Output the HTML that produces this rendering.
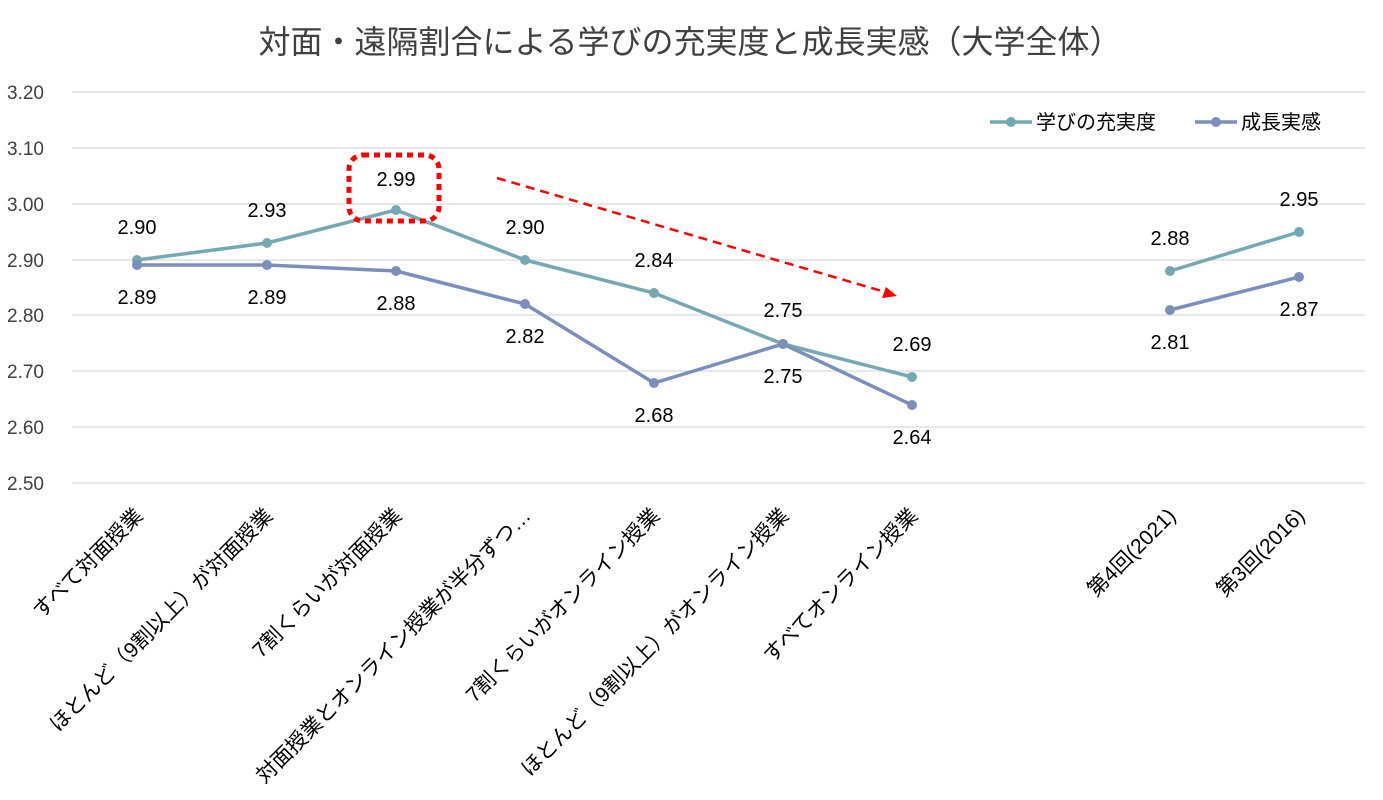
<!DOCTYPE html>
<html><head><meta charset="utf-8"><style>
html,body{margin:0;padding:0;background:#fff;}
svg{display:block;font-family:"Liberation Sans","Noto Sans CJK JP",sans-serif;}
</style></head><body>
<svg width="1383" height="800" viewBox="0 0 1383 800" xmlns="http://www.w3.org/2000/svg">
<rect width="1383" height="800" fill="#fff"/>
<text x="690" y="53" font-size="32" text-anchor="middle" fill="#404040">対面・遠隔割合による学びの充実度と成長実感（大学全体）</text>
<g stroke="#d9d9d9" stroke-width="1.3">
<line x1="72" y1="92" x2="1365" y2="92"/><line x1="72" y1="148" x2="1365" y2="148"/>
<line x1="72" y1="204" x2="1365" y2="204"/><line x1="72" y1="260" x2="1365" y2="260"/>
<line x1="72" y1="315" x2="1365" y2="315"/><line x1="72" y1="371" x2="1365" y2="371"/>
<line x1="72" y1="427" x2="1365" y2="427"/><line x1="72" y1="483" x2="1365" y2="483"/>
</g>
<g font-size="19" fill="#404040">
<text x="7" y="99">3.20</text><text x="7" y="155">3.10</text><text x="7" y="211">3.00</text>
<text x="7" y="267">2.90</text><text x="7" y="322">2.80</text><text x="7" y="378">2.70</text>
<text x="7" y="434">2.60</text><text x="7" y="490">2.50</text>
</g>
<g fill="none" stroke-width="3.5" stroke-linejoin="round">
<polyline stroke="#74a9b4" points="137,260 267,243 396,210 525,260 654,293 783,344 912,377"/>
<polyline stroke="#74a9b4" points="1170,271 1299,232"/>
<polyline stroke="#7b8fba" points="137,265 267,265 396,271 525,304 654,383 783,344 912,405"/>
<polyline stroke="#7b8fba" points="1170,310 1299,277"/>
</g>
<g fill="#74a9b4">
<circle cx="137" cy="260" r="5"/><circle cx="267" cy="243" r="5"/><circle cx="396" cy="210" r="5"/><circle cx="525" cy="260" r="5"/><circle cx="654" cy="293" r="5"/><circle cx="783" cy="344" r="5"/><circle cx="912" cy="377" r="5"/><circle cx="1170" cy="271" r="5"/><circle cx="1299" cy="232" r="5"/>
</g>
<g fill="#7b8fba">
<circle cx="137" cy="265" r="5"/><circle cx="267" cy="265" r="5"/><circle cx="396" cy="271" r="5"/><circle cx="525" cy="304" r="5"/><circle cx="654" cy="383" r="5"/><circle cx="783" cy="344" r="5"/><circle cx="912" cy="405" r="5"/><circle cx="1170" cy="310" r="5"/><circle cx="1299" cy="277" r="5"/>
</g>
<g font-size="20" fill="#000" text-anchor="middle">
<text x="137" y="234">2.90</text><text x="267" y="217">2.93</text><text x="396" y="186">2.99</text><text x="525" y="234">2.90</text><text x="654" y="267">2.84</text><text x="783" y="317">2.75</text><text x="912" y="351">2.69</text><text x="1170" y="245">2.88</text><text x="1299" y="206">2.95</text>
<text x="137" y="304">2.89</text><text x="267" y="304">2.89</text><text x="396" y="310">2.88</text><text x="525" y="343">2.82</text><text x="654" y="422">2.68</text><text x="783" y="383">2.75</text><text x="912" y="444">2.64</text><text x="1170" y="349">2.81</text><text x="1299" y="316">2.87</text>
</g>
<rect x="349" y="155" width="90" height="66" rx="14" fill="none" stroke="#ff0000" stroke-width="5" stroke-dasharray="6,5"/>
<line x1="497" y1="178" x2="885" y2="292" stroke="#ff0000" stroke-width="2.5" stroke-dasharray="9,6"/>
<polygon points="897,296 882,298 886,287" fill="#ff0000"/>
<line x1="990" y1="122" x2="1032" y2="122" stroke="#74a9b4" stroke-width="3.5"/><circle cx="1011" cy="122" r="5" fill="#74a9b4"/>
<text x="1036" y="129" font-size="20" fill="#000">学びの充実度</text>
<line x1="1195" y1="122" x2="1237" y2="122" stroke="#7b8fba" stroke-width="3.5"/><circle cx="1216" cy="122" r="5" fill="#7b8fba"/>
<text x="1241" y="129" font-size="20" fill="#000">成長実感</text>
<g font-size="21" fill="#000" text-anchor="end">
<text transform="translate(144,517) rotate(-45)">すべて対面授業</text>
<text transform="translate(274,517) rotate(-45)">ほとんど（9割以上）が対面授業</text>
<text transform="translate(403,517) rotate(-45)">7割くらいが対面授業</text>
<text transform="translate(532,517) rotate(-45)">対面授業とオンライン授業が半分ずつ…</text>
<text transform="translate(661,517) rotate(-45)">7割くらいがオンライン授業</text>
<text transform="translate(790,517) rotate(-45)">ほとんど（9割以上）がオンライン授業</text>
<text transform="translate(919,517) rotate(-45)">すべてオンライン授業</text>
<text transform="translate(1177,517) rotate(-45)">第4回(2021)</text>
<text transform="translate(1306,517) rotate(-45)">第3回(2016)</text>
</g>
</svg>
</body></html>
